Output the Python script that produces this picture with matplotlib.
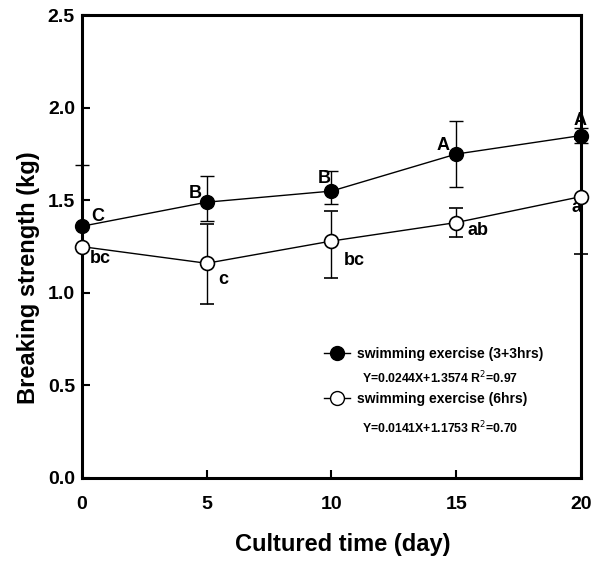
import matplotlib.pyplot as plt
from matplotlib.lines import Line2D

plt.rcParams['font.family'] = ['Liberation Sans', 'DejaVu Sans']

# data
days = [0, 5, 10, 15, 20]
mix_mean = [1.36, 1.49, 1.55, 1.75, 1.85]
mix_lo = [0.0, 0.10, 0.07, 0.18, 0.04]
mix_hi = [0.33, 0.14, 0.11, 0.18, 0.04]
six_mean = [1.25, 1.16, 1.28, 1.38, 1.52]
six_lo = [0.0, 0.22, 0.20, 0.08, 0.31]
six_hi = [0.0, 0.21, 0.16, 0.08, 0.31]
mix_letters = ['C', 'B', 'B', 'A', 'A']
six_letters = ['bc', 'c', 'bc', 'ab', 'a']
mix_label = 'swimming exercise (3+3hrs)'
six_label = 'swimming exercise (6hrs)'
mix_eq = 'Y=0.0244X+1.3574 R$^2$=0.97'
six_eq = 'Y=0.0141X+1.1753 R$^2$=0.70'

# label offsets in points
mix_off = [(7, 1), (-13, 0), (-10, 3), (-14, 0), (-5, 5)]
six_off = [(6, -15), (8, -18), (9, -20), (8, -12), (-7, -14)]

fig = plt.figure(figsize=(6.16, 5.65), dpi=100)
ax = fig.add_axes([0.133, 0.154, 0.81, 0.819])

ax.errorbar(days, six_mean, yerr=[six_lo, six_hi], color='black', lw=1,
            marker='o', ms=10, mfc='white', mec='black', mew=1.2,
            capsize=5, elinewidth=1, capthick=1, clip_on=False, zorder=3)
ax.errorbar(days, mix_mean, yerr=[mix_lo, mix_hi], color='black', lw=1,
            marker='o', ms=10, mfc='black', mec='black',
            capsize=5, elinewidth=1, capthick=1, clip_on=False, zorder=4)

for x, y, t, o in zip(days, mix_mean, mix_letters, mix_off):
    ax.annotate(t, (x, y), xytext=o, textcoords='offset points',
                fontsize=13, fontweight='bold', ha='left', va='bottom')
for x, y, t, o in zip(days, six_mean, six_letters, six_off):
    ax.annotate(t, (x, y), xytext=o, textcoords='offset points',
                fontsize=13, fontweight='bold', ha='left', va='bottom')

ax.set_xlim(0, 20)
ax.set_ylim(0, 2.5)
ax.set_xticks([0, 5, 10, 15, 20])
ax.set_yticks([0, 0.5, 1.0, 1.5, 2.0, 2.5])
ax.set_yticklabels(['0.0', '0.5', '1.0', '1.5', '2.0', '2.5'])
for s in ax.spines.values():
    s.set_linewidth(2.2)
ax.tick_params(direction='in', length=6, width=1.5, labelsize=14)
ax.tick_params(axis='x', pad=13)
ax.tick_params(axis='y', pad=5)
for lab in ax.get_xticklabels() + ax.get_yticklabels():
    lab.set_fontweight('bold')

ax.set_xlabel('Cultured time (day)', fontsize=17, fontweight='bold')
ax.set_ylabel('Breaking strength (kg)', fontsize=17, fontweight='bold')
ax.xaxis.set_label_coords(0.523, -0.118)
ax.yaxis.set_label_coords(-0.085, 0.432)

handles = [Line2D([], [], color='black', lw=1, marker='o', ms=10, mfc='black'),
           Line2D([], [], color='black', lw=1, marker='o', ms=10, mfc='white')]
ax.legend(handles, [mix_label, six_label], loc='upper left',
          bbox_to_anchor=(0.46, 0.31), frameon=False, handlelength=1.9,
          handletextpad=0.5, labelspacing=2.25,
          prop={'weight': 'bold', 'size': 10})
ax.text(0.561, 0.216, mix_eq, transform=ax.transAxes, fontsize=8.8,
        fontweight='bold', va='center')
ax.text(0.561, 0.108, six_eq, transform=ax.transAxes, fontsize=8.8,
        fontweight='bold', va='center')

fig.savefig('out.png', dpi=100)
